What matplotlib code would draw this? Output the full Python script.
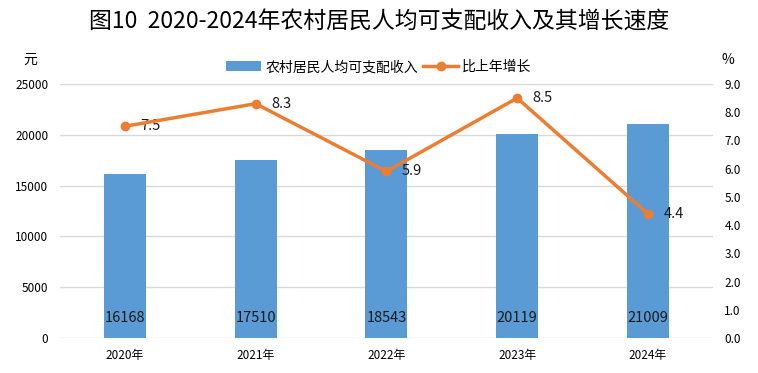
import matplotlib.pyplot as plt

plt.rcParams['font.family'] = ['Noto Sans CJK SC', 'DejaVu Sans']

years = ["2020年", "2021年", "2022年", "2023年", "2024年"]
income = [16168, 17510, 18543, 20119, 21009]
growth = [7.5, 8.3, 5.9, 8.5, 4.4]

bar_color = "#5B9BD5"
line_color = "#ED7D31"

fig = plt.figure(figsize=(7.58, 3.73), dpi=100)
ax = fig.add_axes([0.0785, 0.0938, 0.8625, 0.6812])
ax2 = ax.twinx()

x = list(range(len(years)))
ax.bar(x, income, width=0.32, color=bar_color, label="农村居民人均可支配收入", zorder=2)
ax.set_xlim(-0.5, len(years) - 0.5)
ax.set_ylim(0, 25000)
ax.set_yticks(range(0, 25001, 5000))
ax.yaxis.grid(True, color="#D9D9D9", linewidth=1, zorder=0)
ax.set_axisbelow(True)
ax.set_xticks(x)
ax.set_xticklabels(years, fontsize=8.5)
ax.tick_params(axis="both", length=0, labelsize=8.5, pad=8)
for s in ax.spines.values():
    s.set_visible(False)
for xi, v in zip(x, income):
    ax.text(xi, 2000, str(v), ha="center", va="center", fontsize=10.5, color="#1a1a1a", zorder=3)

ax2.plot(x, growth, "-o", color=line_color, linewidth=2.5, markersize=6, label="比上年增长", zorder=4)
ax2.set_ylim(0, 9)
ax2.set_yticks([i * 1.0 for i in range(10)])
ax2.set_yticklabels([f"{i:.1f}" for i in range(10)])
ax2.tick_params(axis="y", length=0, labelsize=8.5, pad=8)
for s in ax2.spines.values():
    s.set_visible(False)
for xi, v in zip(x, growth):
    ax2.text(xi + 0.12, v, f"{v:.1f}", ha="left", va="center", fontsize=10.5, color="#1a1a1a")

fig.text(0.5, 0.94, "图10  2020-2024年农村居民人均可支配收入及其增长速度",
         ha="center", va="center", fontsize=16.5, fontweight="medium")
fig.text(0.04, 0.84, "元", ha="center", va="center", fontsize=10)
fig.text(0.96, 0.84, "%", ha="center", va="center", fontsize=10)

h1, l1 = ax.get_legend_handles_labels()
h2, l2 = ax2.get_legend_handles_labels()
fig.legend(h1 + h2, l1 + l2, loc="center", bbox_to_anchor=(0.5, 0.82), ncol=2,
           frameon=False, fontsize=10, handlelength=2.5, columnspacing=0.4, handletextpad=0.3)

fig.savefig("out.png", dpi=100)
